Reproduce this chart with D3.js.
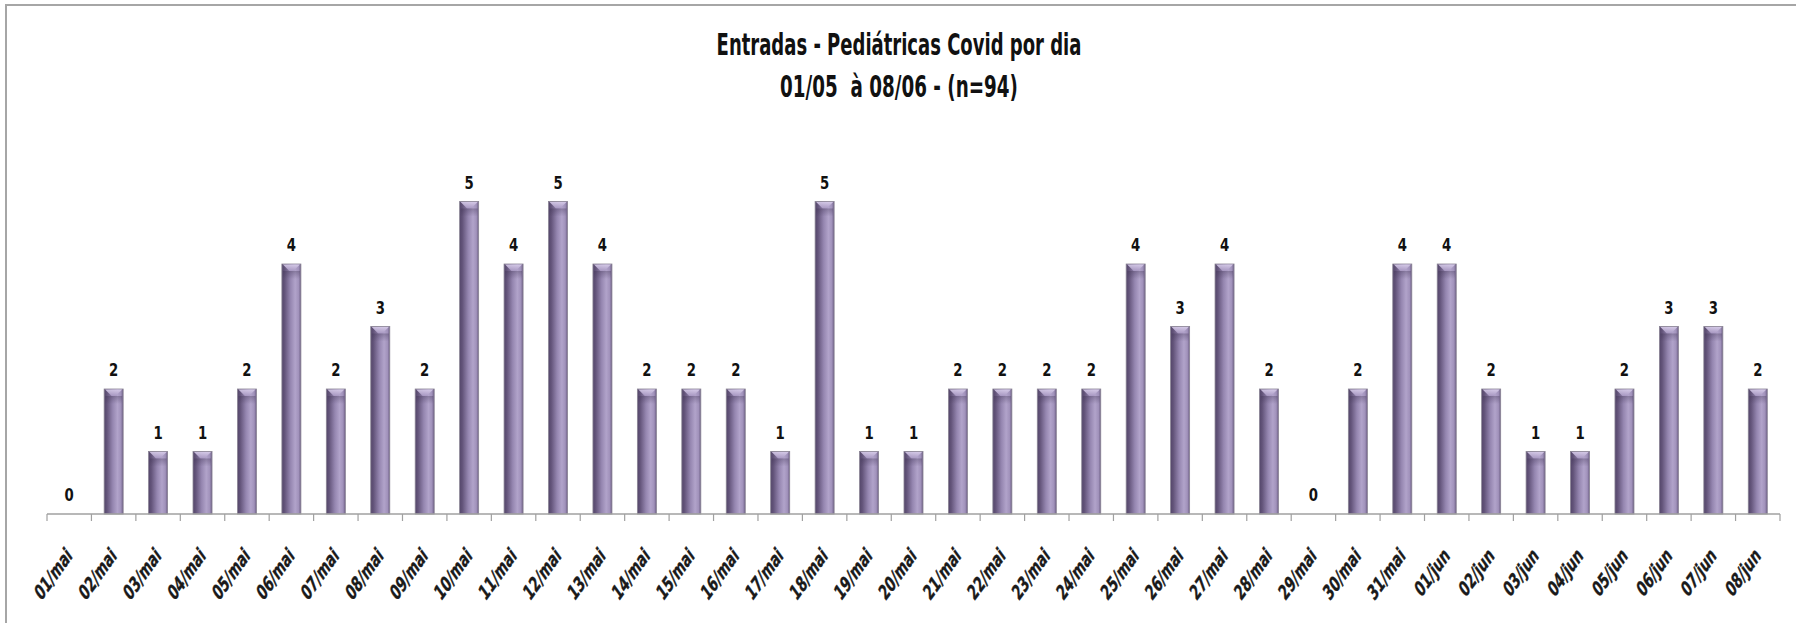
<!DOCTYPE html>
<html>
<head>
<meta charset="utf-8">
<script src="https://cdn.jsdelivr.net/npm/d3@7"></script>
<style>
  html, body { margin: 0; padding: 0; background: #ffffff; }
  svg { display: block; }
  text { font-family: "Liberation Sans Narrow", "Arial Narrow", "DejaVu Sans Condensed", "Liberation Sans", sans-serif; font-weight: bold; }
</style>
</head>
<body>
<svg id="chart" width="1796" height="623"></svg>
<script>
const categories = ["01/mai","02/mai","03/mai","04/mai","05/mai","06/mai","07/mai","08/mai","09/mai","10/mai",
  "11/mai","12/mai","13/mai","14/mai","15/mai","16/mai","17/mai","18/mai","19/mai","20/mai",
  "21/mai","22/mai","23/mai","24/mai","25/mai","26/mai","27/mai","28/mai","29/mai","30/mai",
  "31/mai","01/jun","02/jun","03/jun","04/jun","05/jun","06/jun","07/jun","08/jun"];
const values = [0,2,1,1,2,4,2,3,2,5,
  4,5,4,2,2,2,1,5,1,1,
  2,2,2,2,4,3,4,2,0,2,
  4,4,2,1,1,2,3,3,2];
const titleLines = ["Entradas - Pediátricas Covid por dia", "01/05  à 08/06 - (n=94)"];

const svg = d3.select("#chart");
const W = 1796, H = 623;

// outer chart border (left + top visible)
svg.append("rect").attr("x", 6).attr("y", 5).attr("width", W + 20).attr("height", H + 20)
  .attr("fill", "#fff").attr("stroke", "#a6a6a6").attr("stroke-width", 2);

const plotLeft = 47, plotRight = 1780, baseY = 514, unit = 62.5;
const x = d3.scaleBand().domain(categories).range([plotLeft, plotRight])
  .paddingInner(0.572).paddingOuter(0.286);
const y = d3.scaleLinear().domain([0, 5]).range([baseY, baseY - 5 * unit]);

// gradients
const defs = svg.append("defs");
const g1 = defs.append("linearGradient").attr("id", "barGrad").attr("x1", "0").attr("x2", "1").attr("y1", "0").attr("y2", "0");
[["0%", "#54466a"], ["15%", "#64557b"], ["45%", "#9586b0"], ["70%", "#b1a3ca"], ["88%", "#a192bb"], ["100%", "#6b5d83"]]
  .forEach(([o, c]) => g1.append("stop").attr("offset", o).attr("stop-color", c));
const g2 = defs.append("linearGradient").attr("id", "capGrad").attr("x1", "0").attr("x2", "0").attr("y1", "0").attr("y2", "1");
[["0%", "#d8cdea"], ["100%", "#a898c2"]].forEach(([o, c]) => g2.append("stop").attr("offset", o).attr("stop-color", c));
const g3 = defs.append("linearGradient").attr("id", "shadeGrad").attr("x1", "0").attr("x2", "0").attr("y1", "0").attr("y2", "1");
[["0%", "#3c3050", 0.35], ["100%", "#3c3050", 0]].forEach(([o, c, op]) => g3.append("stop").attr("offset", o).attr("stop-color", c).attr("stop-opacity", op));

const data = categories.map((c, i) => ({ c, v: values[i] }));

// bars
const bars = svg.append("g");
data.filter(d => d.v > 0).forEach(d => {
  const x0 = x(d.c), bw = x.bandwidth(), top = y(d.v), h = baseY - top;
  bars.append("rect").attr("x", x0).attr("y", top).attr("width", bw).attr("height", h)
    .attr("fill", "url(#barGrad)").attr("stroke", "#8a8494").attr("stroke-width", 0.8);
  bars.append("path")
    .attr("d", `M${x0 + 1},${top + 0.5} L${x0 + bw - 1},${top + 0.5} L${x0 + bw / 2 + 2},${top + 7} L${x0 + bw / 2 - 2},${top + 7} Z`)
    .attr("fill", "url(#capGrad)").attr("opacity", 0.9);
  bars.append("rect").attr("x", x0 + 1).attr("y", top + 7).attr("width", bw - 2).attr("height", 8)
    .attr("fill", "url(#shadeGrad)");
});

// axis line and boundary ticks
const axisG = svg.append("g");
axisG.append("line").attr("x1", plotLeft).attr("x2", plotRight).attr("y1", baseY).attr("y2", baseY)
  .attr("stroke", "#a0a0a0").attr("stroke-width", 1.5);
d3.range(categories.length + 1).forEach(i => {
  const tx = plotLeft + i * x.step();
  axisG.append("line").attr("x1", tx).attr("x2", tx).attr("y1", baseY).attr("y2", baseY + 7)
    .attr("stroke", "#a0a0a0").attr("stroke-width", 1.2);
});

// category labels: larger glyphs, condensed along the baseline
const lab = svg.append("g");
const labFont = 22;
const probe = lab.append("text").attr("font-size", labFont).text(categories[0]);
const labK = 63 / probe.node().getComputedTextLength();
probe.remove();
data.forEach(d => {
  const cx = x(d.c) + x.bandwidth() / 2;
  lab.append("text")
    .attr("transform", `translate(${cx + 4},${baseY + 43}) scale(0.72,1) rotate(-45) scale(${labK},1)`)
    .attr("text-anchor", "end").attr("font-size", labFont).attr("fill", "#1a1a1a")
    .attr("stroke", "#1a1a1a").attr("stroke-width", 0.4)
    .text(d.c);
});

// value labels
const vl = svg.append("g");
data.forEach(d => {
  const cx = x(d.c) + x.bandwidth() / 2;
  vl.append("text").attr("transform", `translate(${cx},${y(d.v) - 13}) scale(0.82,1)`)
    .attr("text-anchor", "middle").attr("font-size", 18).attr("fill", "#111")
    .text(d.v);
});

// title
const titleCX = 899;
const targets = [[55, 31, 365], [97, 31, 238]];
titleLines.forEach((t, i) => {
  const [by, fs, tw] = targets[i];
  const g = svg.append("g");
  const tx = g.append("text").attr("text-anchor", "middle").attr("font-size", fs).attr("fill", "#111")
    .attr("xml:space", "preserve").style("white-space", "pre").text(t);
  const len = tx.node().getComputedTextLength();
  const s = tw / len;
  g.attr("transform", `translate(${titleCX},${by}) scale(${s},1)`);
});
</script>
</body>
</html>
